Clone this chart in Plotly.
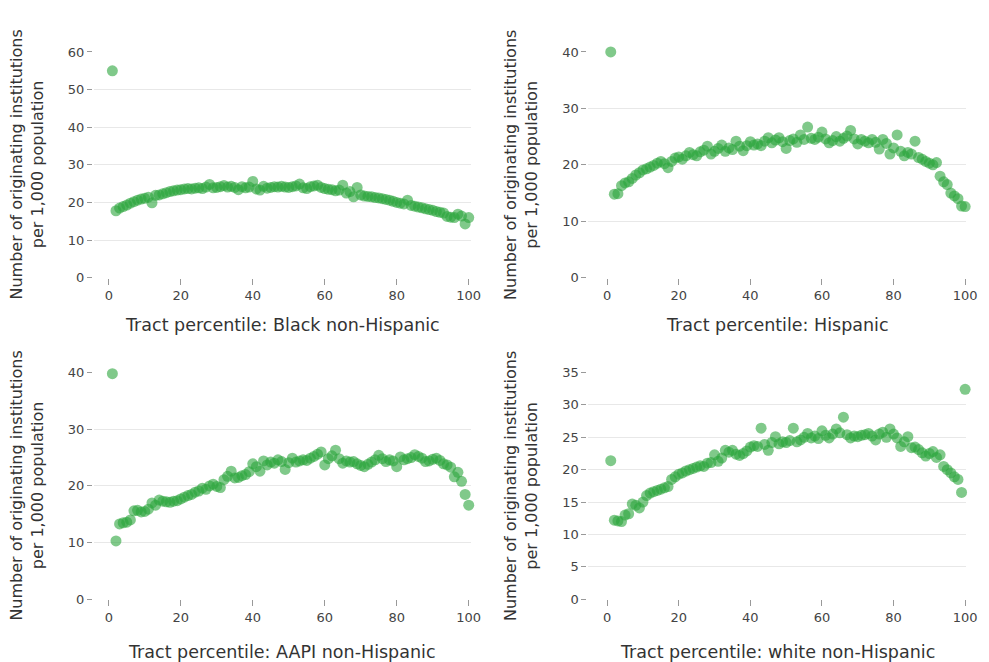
import plotly.graph_objects as go

percentile = list(range(1, 101))

black_nh = [55, 17.8, 18.5, 18.9, 19.3, 19.8, 20.2, 20.6, 20.9, 21.1,
            21.4, 19.9, 21.9, 22.0, 22.3, 22.6, 22.9, 23.1, 23.3, 23.4,
            23.6, 23.7, 23.6, 23.8, 23.9, 23.7, 24.1, 24.8, 23.9, 24.0,
            24.2, 24.5, 24.1, 24.3, 24.0, 23.4, 24.2, 23.9, 24.1, 25.6,
            23.6, 23.3, 24.3, 23.8, 24.0, 24.2, 24.1, 24.3, 24.1, 24.0,
            24.2, 24.4, 24.9, 23.9, 23.7, 24.2, 24.4, 24.6, 24.0, 23.7,
            23.5, 23.4, 23.1, 23.3, 24.6, 22.5, 22.9, 21.5, 24.0, 22.0,
            21.7, 21.6, 21.5, 21.3, 21.2, 21.0, 20.8, 20.6, 20.3, 20.0,
            19.8, 19.6, 20.6, 19.2, 19.0, 18.8, 18.6, 18.3, 18.1, 17.9,
            17.6, 17.4, 17.2, 16.3, 16.1, 16.0, 16.9, 16.4, 14.3, 16.0]

hispanic = [40, 14.8, 14.9, 16.3, 16.8, 17.0, 17.6, 18.2, 18.6, 19.1,
            19.3, 19.6, 19.9, 20.3, 20.6, 20.2, 19.5, 20.6, 21.2, 21.4,
            21.0, 21.6, 22.2, 21.8, 21.6, 22.3, 22.6, 23.3, 21.9, 22.4,
            22.9, 23.5, 22.4, 23.0, 22.7, 24.2, 23.3, 22.5, 23.4, 24.1,
            23.5, 23.7, 23.4, 24.2, 24.8, 23.9, 24.4, 24.8, 24.1, 22.9,
            24.3, 24.6, 24.0, 25.3, 24.5, 26.7, 24.7, 24.5, 24.9, 25.8,
            24.6, 23.9, 24.3, 25.0, 24.2, 24.7, 25.1, 26.1, 24.6, 23.7,
            24.5, 24.2, 23.9, 24.5, 24.0, 22.8, 24.5, 23.8, 21.9, 23.0,
            25.3, 22.4, 21.6, 22.2, 21.9, 24.2, 21.3, 21.0, 20.6, 20.3,
            20.0, 20.4, 18.0, 17.0, 16.5, 15.0, 14.5, 14.0, 12.7, 12.6]

aapi_nh = [39.8, 10.3, 13.3, 13.5, 13.6, 14.0, 15.6, 15.7, 15.4, 15.5,
           15.9, 17.0, 16.6, 17.5, 17.3, 17.2, 17.1, 17.3, 17.4, 17.7,
           18.0, 18.3, 18.5, 18.9, 19.1, 19.6, 19.4, 20.0, 20.3, 19.9,
           19.7, 21.1, 21.7, 22.6, 21.4, 21.5, 21.8, 22.0, 22.5, 23.9,
           23.4, 22.6, 24.4, 23.7, 24.2, 24.0, 24.6, 24.3, 22.9, 24.1,
           24.9, 24.2, 24.4, 24.6, 24.5, 24.9, 25.2, 25.6, 26.0, 23.7,
           24.8, 25.3, 26.3, 24.8, 24.0, 24.4, 24.2, 24.3, 23.9, 23.6,
           23.4, 23.8, 24.2, 24.6, 25.4, 24.8, 24.3, 24.6, 24.4, 23.4,
           25.1, 24.6, 24.8, 25.0, 25.5, 25.2, 24.9, 24.3, 24.4, 24.7,
           24.9, 24.5, 23.9, 23.7, 23.3, 21.6, 22.4, 20.8, 18.5, 16.6]

white_nh = [21.4, 12.2, 12.1, 12.0, 13.0, 13.2, 14.7, 14.5, 14.1, 15.0,
            16.0, 16.4, 16.6, 16.8, 17.0, 17.2, 17.4, 18.5, 18.9, 19.3,
            19.5, 19.8, 20.0, 20.2, 20.4, 20.6, 20.5, 21.0, 21.1, 22.3,
            21.3, 21.8, 23.0, 22.7, 23.0, 22.4, 22.2, 22.5, 22.9, 23.5,
            23.7, 23.6, 26.4, 23.9, 23.0, 24.2, 25.1, 24.0, 24.3, 24.2,
            24.5, 26.4, 24.3, 24.6, 25.0, 25.6, 24.9, 25.2, 24.8, 26.0,
            25.3, 24.9, 25.5, 26.3, 25.7, 28.1, 25.4, 24.9, 25.2, 25.1,
            25.3, 25.4, 25.6, 25.2, 24.6, 25.5, 25.8, 25.0, 26.3, 25.5,
            24.9, 23.6, 24.3, 25.1, 23.4, 23.5, 23.1, 22.6, 22.1, 22.5,
            22.8, 21.9, 22.3, 20.5, 20.0, 19.5, 18.9, 18.5, 16.5, 32.4]

x_ticks = [0, 20, 40, 60, 80, 100]
panels = [
    ("Tract percentile: Black non-Hispanic", black_nh, [0, 10, 20, 30, 40, 50, 60]),
    ("Tract percentile: Hispanic", hispanic, [0, 10, 20, 30, 40]),
    ("Tract percentile: AAPI non-Hispanic", aapi_nh, [0, 10, 20, 30, 40]),
    ("Tract percentile: white non-Hispanic", white_nh, [0, 5, 10, 15, 20, 25, 30, 35]),
]
y_title = "Number of originating institutions<br>per 1,000 population"

W, H = 989, 662
FONT = "DejaVu Sans"
TXT = "#444444"
GRID = "#e8e8e8"
TICKC = "#999999"

# pixel boxes of plot areas (left, right, top, bottom)
boxes = [(95, 476, 46, 277), (595, 977, 46, 277),
         (95, 476, 374, 606), (595, 977, 374, 606)]
x0px = [110, 614, 110, 614]
x100px = [474, 976, 474, 976]
title_offset = [36, 36, 42, 42]

fig = go.Figure()
annotations = []
for i, ((title, vals, yt), (l, r, t, b)) in enumerate(zip(panels, boxes)):
    n = i + 1
    xa = "xaxis" if n == 1 else f"xaxis{n}"
    ya = "yaxis" if n == 1 else f"yaxis{n}"
    xr = "x" if n == 1 else f"x{n}"
    yr = "y" if n == 1 else f"y{n}"
    fig.add_trace(go.Scatter(
        x=percentile, y=vals, mode="markers", xaxis=xr, yaxis=yr,
        marker=dict(size=11, color="rgba(44,165,60,0.6)", line=dict(width=0)),
        showlegend=False, cliponaxis=False, hoverinfo="x+y"))
    ppu = (x100px[i] - x0px[i]) / 100.0
    xmin = (l - x0px[i]) / ppu
    xmax = (r - x0px[i]) / ppu
    fig.layout[xa] = dict(
        domain=[l / W, r / W], range=[xmin, xmax], anchor=yr,
        tickvals=x_ticks, ticks="outside", ticklen=6, tickwidth=1,
        tickcolor=TICKC, showgrid=False, zeroline=False, showline=False,
        tickfont=dict(family=FONT, size=13, color=TXT), fixedrange=True)
    fig.layout[ya] = dict(
        domain=[1 - b / H, 1 - t / H], range=[0, yt[-1]], anchor="free",
        position=(l - 2) / W, tickvals=yt, ticks="outside", ticklen=5,
        tickwidth=1, tickcolor=TICKC, showgrid=True, gridcolor=GRID,
        gridwidth=1, zeroline=False, showline=False,
        tickfont=dict(family=FONT, size=13, color=TXT), fixedrange=True)
    # x title
    annotations.append(dict(
        text=title, xref="paper", yref="paper", x=(l + r) / 2 / W,
        y=1 - (b + title_offset[i]) / H, xanchor="center", yanchor="top",
        showarrow=False, font=dict(family=FONT, size=17.5, color="#333333")))
    # y title
    annotations.append(dict(
        text=y_title, xref="paper", yref="paper", x=(l - 68) / W,
        y=1 - (t + b) / 2 / H, xanchor="center", yanchor="middle",
        textangle=-90, showarrow=False,
        font=dict(family=FONT, size=16, color="#333333")))

fig.update_layout(
    width=W, height=H, margin=dict(l=0, r=0, t=0, b=0),
    paper_bgcolor="white", plot_bgcolor="white",
    annotations=annotations, showlegend=False)

fig.write_html("out.html")
